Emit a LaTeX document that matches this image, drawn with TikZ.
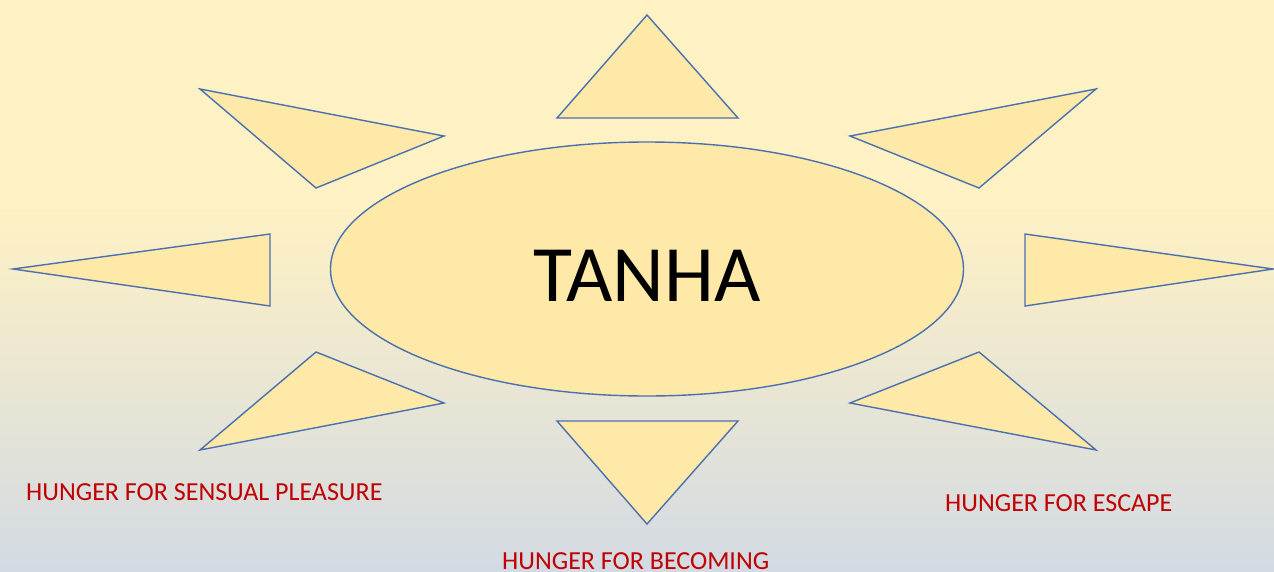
\documentclass[tikz,border=0pt]{standalone}
\usepackage{fontspec}
\setmainfont{Carlito}
\usetikzlibrary{shapes.geometric}
\definecolor{bgtop}{HTML}{FEF1C4}
\definecolor{bgbot}{HTML}{D3DAE3}
\definecolor{rayfill}{HTML}{FFE9A8}
\definecolor{rayline}{HTML}{4A70B0}
\definecolor{hungerred}{HTML}{C00000}
\pgfdeclareverticalshading{bgshade}{100bp}{color(0bp)=(bgbot); color(25bp)=(bgbot); color(57bp)=(bgtop); color(100bp)=(bgtop)}
\tikzset{
  ray/.style={draw=rayline,fill=rayfill,line width=1.4pt,line join=miter},
  hunger/.style={text=hungerred,font=\fontsize{26}{30}\selectfont,inner sep=0pt,anchor=base west}
}
\begin{document}
\begin{tikzpicture}[x=1pt,y=-1pt]
		% Hintergrund
		\useasboundingbox (0,0) rectangle (1274,571);
		\fill[shading=bgshade] (0,0) rectangle (1274,571);

		% Strahlen
		\draw[ray] (557,118) -- (738,118) -- (647,15) -- cycle;
		\draw[ray] (200,89) -- (444,136) -- (316,188) -- cycle;
		\draw[ray] (850,136) -- (1096,89) -- (979,188) -- cycle;
		\draw[ray] (13,269) -- (270,234) -- (270,306) -- cycle;
		\draw[ray] (1025,234) -- (1025,306) -- (1273,269) -- cycle;
		\draw[ray] (200,450) -- (316,352) -- (444,403) -- cycle;
		\draw[ray] (557,421) -- (738,421) -- (647,524) -- cycle;
		\draw[ray] (850,403) -- (979,352) -- (1096,450) -- cycle;

		% Knoten
		\node (tanha) at (647,269) [ellipse,draw=rayline,fill=rayfill,line width=1.4pt,minimum width=633pt,minimum height=254pt,inner sep=0pt,font=\fontsize{80}{90}\selectfont] {\raisebox{-7pt}[\height][\depth]{TANHA}};
		\node (sensual) at (26,500) [hunger] {HUNGER FOR SENSUAL PLEASURE};
		\node (escape) at (945,511) [hunger] {HUNGER FOR ESCAPE};
		\node (becoming) at (502,569) [hunger] {HUNGER FOR BECOMING};
	\end{tikzpicture}
\end{document}
